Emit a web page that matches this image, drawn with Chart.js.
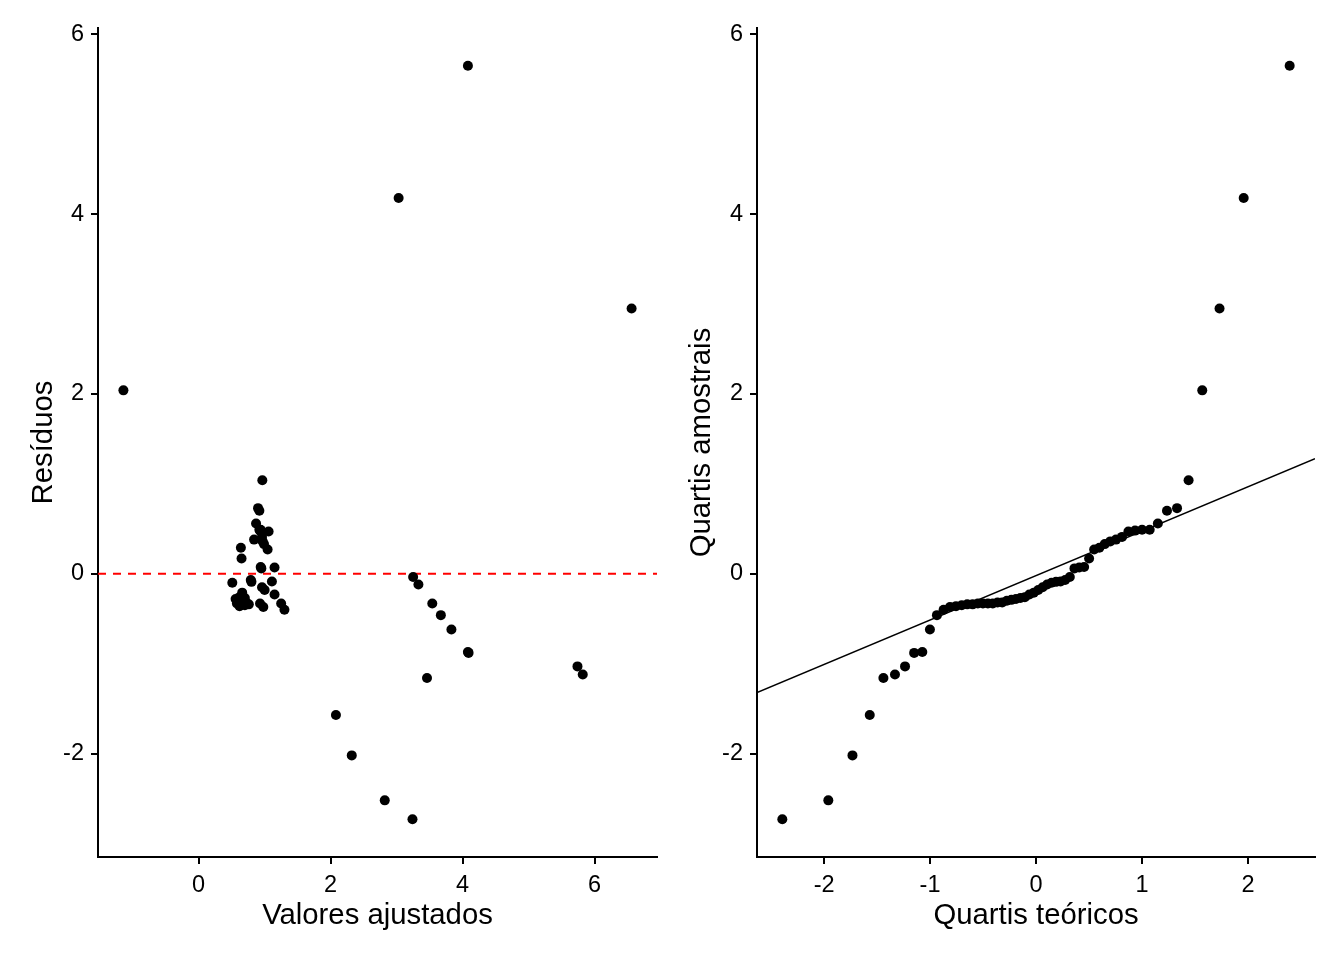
<!DOCTYPE html>
<html>
<head>
<meta charset="utf-8">
<script src="https://cdn.jsdelivr.net/npm/chart.js@4/dist/chart.umd.min.js"></script>
<style>
    body { margin: 0; background: #fff; }
    #wrap { position: relative; width: 1344px; height: 960px; }
    canvas { position: absolute; top: 0; }
    #left { left: 0; }
    #right { left: 672px; }
</style>
</head>
<body>
<div id="wrap">
    <canvas id="left" width="672" height="960"></canvas>
    <canvas id="right" width="672" height="960"></canvas>
</div>
<script>
// residuals (sorted) and matching fitted values
const fitted = [3.24, 2.82, 2.32, 2.08, 3.46, 5.82, 5.74, 4.09, 4.08, 3.83, 3.67,
    1.30, 0.98, 0.62, 0.70, 0.66, 0.76, 3.54, 0.93, 1.25, 0.58, 0.72, 0.68,
    0.60, 0.64, 0.56, 0.70, 0.62, 1.15, 0.66, 1.00, 0.96, 3.33, 0.51, 0.80,
    1.11, 0.79, 3.25, 0.95, 1.15, 0.94, 0.65, 1.045, 0.64, 0.99, 0.97, 0.84,
    0.96, 1.06, 0.93, 0.92, 0.94, 0.87, 0.92, 0.90, 0.965, -1.14, 6.56, 3.03, 4.08];
const residuals = [-2.73, -2.52, -2.02, -1.57, -1.16, -1.12, -1.03, -0.88, -0.87, -0.62, -0.46,
    -0.40, -0.37, -0.36, -0.35, -0.34, -0.34, -0.33, -0.33, -0.33, -0.33, -0.32, -0.32,
    -0.30, -0.29, -0.28, -0.27, -0.26, -0.23, -0.21, -0.18, -0.15, -0.12, -0.10, -0.09,
    -0.085, -0.07, -0.035, 0.06, 0.07, 0.075, 0.17, 0.27, 0.29, 0.33, 0.36, 0.38,
    0.41, 0.47, 0.48, 0.49, 0.49, 0.56, 0.70, 0.73, 1.04, 2.04, 2.95, 4.18, 5.65];
const theoretical = [-2.394, -1.960, -1.732, -1.569, -1.440, -1.331, -1.236, -1.150, -1.073, -1.001,
    -0.935, -0.872, -0.812, -0.755, -0.701, -0.649, -0.598, -0.549, -0.501, -0.454,
    -0.408, -0.363, -0.319, -0.275, -0.232, -0.189, -0.147, -0.105, -0.063, -0.021,
    0.021, 0.063, 0.105, 0.147, 0.189, 0.232, 0.275, 0.319, 0.363, 0.408,
    0.454, 0.501, 0.549, 0.598, 0.649, 0.701, 0.755, 0.812, 0.872, 0.935,
    1.001, 1.073, 1.150, 1.236, 1.331, 1.440, 1.569, 1.732, 1.960, 2.394];

const hlineX = [-1.525, 6.945];
const hlineY = [0, 0];
const qqLineX = [-2.633, 2.633];
const qqLineY = [-1.32, 1.28];

const yTicks = [-2, 0, 2, 4, 6];
const xTicksLeft = [0, 2, 4, 6];
const xTicksRight = [-2, -1, 0, 1, 2];

const FONT = "'Liberation Sans', Arial, sans-serif";

function toPoints(xs, ys) {
    return xs.map(function(x, i) { return { x: x, y: ys[i] }; });
}

function axis(min, max, ticks, title, titlePad, fitSize, horizontal) {
    return {
        type: 'linear',
        min: min,
        max: max,
        afterBuildTicks: function(scale) {
            scale.ticks = ticks.map(function(v) { return { value: v }; });
        },
        afterFit: function(scale) {
            if (horizontal) scale.height = fitSize; else scale.width = fitSize;
        },
        ticks: {
            color: '#000',
            font: { family: FONT, size: 23.5 },
            padding: 7,
            includeBounds: false,
            maxRotation: 0,
            autoSkip: false
        },
        grid: {
            drawOnChartArea: false,
            drawTicks: true,
            tickLength: 7,
            color: '#000',
            lineWidth: 2
        },
        border: { display: true, color: '#000', width: 2 },
        title: {
            display: true,
            text: title,
            color: '#000',
            font: { family: FONT, size: 29.3 },
            padding: titlePad
        }
    };
}

function pointSet(xs, ys) {
    return {
        type: 'scatter',
        data: toPoints(xs, ys),
        pointRadius: 5,
        pointHoverRadius: 5,
        backgroundColor: '#000',
        borderWidth: 0
    };
}

new Chart(document.getElementById('left'), {
    type: 'scatter',
    data: {
        datasets: [
            pointSet(fitted, residuals),
            {
                type: 'line',
                data: toPoints(hlineX, hlineY),
                borderColor: '#ff0000',
                borderWidth: 2,
                borderDash: [8, 7],
                pointRadius: 0,
                fill: false
            }
        ]
    },
    options: {
        responsive: false,
        animation: false,
        devicePixelRatio: 1,
        layout: { padding: { top: 28, right: 15, left: 0, bottom: 0 } },
        plugins: { legend: { display: false }, tooltip: { enabled: false } },
        scales: {
            x: axis(-1.525, 6.945, xTicksLeft, 'Valores ajustados', { top: 0, bottom: 27 }, 103, true),
            y: axis(-3.15, 6.07, yTicks, 'Resíduos', { top: 26, bottom: 0 }, 98, false)
        }
    }
});

new Chart(document.getElementById('right'), {
    type: 'scatter',
    data: {
        datasets: [
            pointSet(theoretical, residuals),
            {
                type: 'line',
                data: toPoints(qqLineX, qqLineY),
                borderColor: '#000',
                borderWidth: 1.5,
                pointRadius: 0,
                fill: false
            }
        ]
    },
    options: {
        responsive: false,
        animation: false,
        devicePixelRatio: 1,
        layout: { padding: { top: 28, right: 29, left: 0, bottom: 0 } },
        plugins: { legend: { display: false }, tooltip: { enabled: false } },
        scales: {
            x: axis(-2.633, 2.633, xTicksRight, 'Quartis teóricos', { top: 0, bottom: 27 }, 103, true),
            y: axis(-3.15, 6.07, yTicks, 'Quartis amostrais', { top: 12.5, bottom: 0 }, 85, false)
        }
    }
});
</script>
</body>
</html>
